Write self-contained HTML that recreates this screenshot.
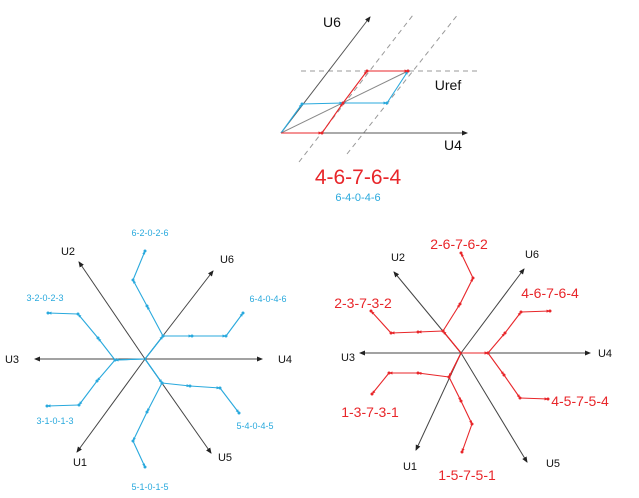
<!DOCTYPE html>
<html><head><meta charset="utf-8"><style>
html,body{margin:0;padding:0;background:#fff;}
svg{display:block;font-family:"Liberation Sans",sans-serif;}
</style></head><body>
<svg id="s" width="639" height="498" viewBox="0 0 639 498">
<defs>
<marker id="ah" markerWidth="6" markerHeight="6" refX="5" refY="3" orient="auto"><path d="M0,0.5 L6,3 L0,5.5z" fill="#222"/></marker>
<marker id="ar" markerWidth="4" markerHeight="4" refX="3.5" refY="2" orient="auto" markerUnits="userSpaceOnUse"><path d="M0,0.5 L4,2 L0,3.5z" fill="#e8262a"/></marker>
<marker id="ab" markerWidth="4" markerHeight="4" refX="3.5" refY="2" orient="auto" markerUnits="userSpaceOnUse"><path d="M0,0.5 L4,2 L0,3.5z" fill="#29a9dd"/></marker>
</defs>
</svg>
<script>
const RED="#e8262a", BLUE="#29a9dd";
// top diagram
const topAxes=[["U4",281,133,467,133,453,150],["U6",281,133,370,17,332,27]];
const topDashed=[[301,71,478,71],[299,162,413,15],[347,154,459,13]];
const topRed=[[281,133],[322,133],[343,103],[367,71],[408,71]];
const topBlue=[[281,133],[302,104],[343,103],[387,103],[408,71]];
// bottom-left (blue)
const blAxes=[["U4",262,359,285,363],["U3",35,359,12,363],["U6",213,271,227,263],["U1",77,452,80,466],["U2",79,262,68,255],["U5",211,453,225,461]];
const blCenter=[145,359];
const blPaths=[
 ["6-4-0-4-6",[[145,359],[163,336],[192,336],[226,336],[243,313]],268,302],
 ["6-2-0-2-6",[[145,359],[163,336],[147,306],[133,280],[145,251]],150,236],
 ["3-2-0-2-3",[[145,359],[115,360],[98,338],[78,314],[48,313]],45,301],
 ["3-1-0-1-3",[[145,359],[115,360],[97,381],[79,405],[47,406]],55,424],
 ["5-4-0-4-5",[[145,359],[162,383],[190,386],[220,388],[239,413]],255,429],
 ["5-1-0-1-5",[[145,359],[162,383],[147,412],[133,441],[145,467]],150,490]];
// bottom-right (red)
const brAxes=[["U4",590,353,605,357],["U3",360,353,348,361],["U6",524,269,532,258],["U1",416,450,410,470],["U2",394,272,398,261],["U5",527,462,553,467]];
const brPaths=[
 ["4-6-7-6-4",[[461,353],[488,353],[505,333],[521,312],[550,311]],550,298],
 ["4-5-7-5-4",[[461,353],[488,353],[504,375],[520,398],[548,399]],580,406],
 ["2-6-7-6-2",[[461,353],[443,331],[460,304],[473,278],[461,253]],459,249],
 ["2-3-7-3-2",[[461,353],[443,331],[418,332],[391,333],[371,311]],363,308],
 ["1-3-7-3-1",[[461,353],[449,377],[418,373],[389,373],[372,394]],370,417],
 ["1-5-7-5-1",[[461,353],[449,377],[461,401],[472,424],[462,452]],467,480]];

const s=document.getElementById('s');
function el(t,a,name){const e=document.createElementNS("http://www.w3.org/2000/svg",t);for(const k in a)e.setAttribute(k,a[k]);


s.appendChild(e);return e;}
function txt(x,y,str,size,fill,name){const e=el("text",{x:x,y:y,"font-size":size,fill:fill,"text-anchor":"middle"},name);e.textContent=str;return e;}
function line(x1,y1,x2,y2,stroke,w,name,extra){return el("line",Object.assign({x1,y1,x2,y2,stroke,"stroke-width":w},extra||{}),name);}
function poly(pts,color,mk,name){
 for(let i=0;i<pts.length-1;i++){
  line(pts[i][0],pts[i][1],pts[i+1][0],pts[i+1][1],color,1.1,name+'-seg',{"marker-end":"url(#"+mk+")"});
 }
 for(let i=1;i<pts.length;i++) el("circle",{cx:pts[i][0],cy:pts[i][1],r:1.5,fill:color},name+'-node');
}
// top
topDashed.forEach((d,i)=>line(d[0],d[1],d[2],d[3],"#999",1,"dashed-guide-"+i,{"stroke-dasharray":"5,4"}));
topAxes.forEach(a=>{line(a[1],a[2],a[3],a[4],"#555",1,"axis-"+a[0].toLowerCase(),{"marker-end":"url(#ah)"});txt(a[5],a[6],a[0],14,"#111","label-"+a[0].toLowerCase());});
line(281,133,408,71,"#888",1,"uref-vector");
poly(topBlue,BLUE,"ab","top-blue-path");
poly(topRed,RED,"ar","top-red-path");
txt(448,90,"Uref",14,"#111","label-uref");
txt(358,184,"4-6-7-6-4",21,RED,"title-red-sequence");
txt(358,201,"6-4-0-4-6",11,BLUE,"title-blue-sequence");
// bottom-left
blAxes.forEach(a=>{line(blCenter[0],blCenter[1],a[1],a[2],"#444",1,"bl-axis-"+a[0].toLowerCase(),{"marker-end":"url(#ah)"});txt(a[3],a[4],a[0],11,"#111","bl-label-"+a[0].toLowerCase());});
blPaths.forEach(p=>{poly(p[1],BLUE,"ab","bl-path-"+p[0]);txt(p[2],p[3],p[0],9,BLUE,"bl-seq-"+p[0]);});
// bottom-right
brAxes.forEach(a=>{line(461,353,a[1],a[2],"#444",1,"br-axis-"+a[0].toLowerCase(),{"marker-end":"url(#ah)"});txt(a[3],a[4],a[0],11,"#111","br-label-"+a[0].toLowerCase());});
brPaths.forEach(p=>{poly(p[1],RED,"ar","br-path-"+p[0]);txt(p[2],p[3],p[0],14,RED,"br-seq-"+p[0]);});
</script>
</body></html>
